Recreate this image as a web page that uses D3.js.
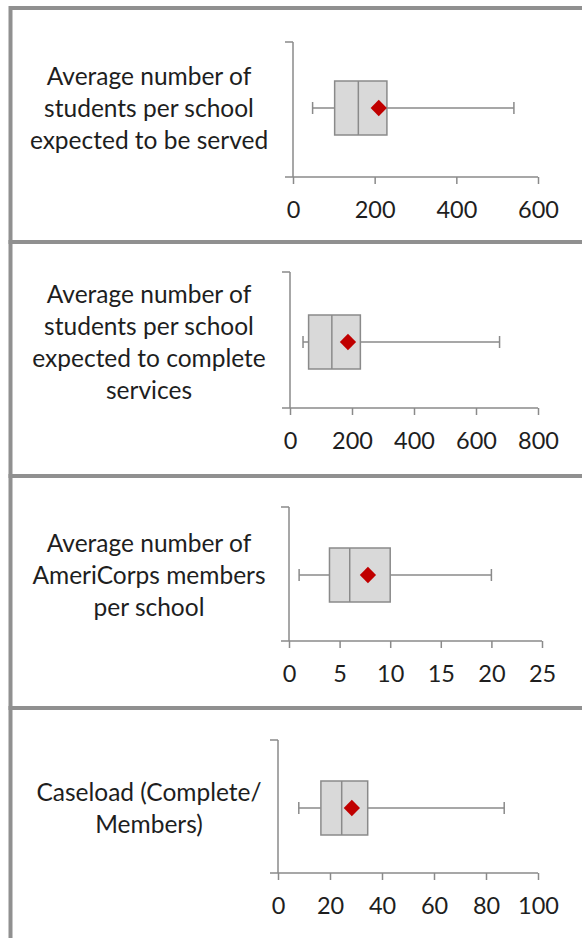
<!DOCTYPE html>
<html>
<head>
<meta charset="utf-8">
<script src="https://cdn.jsdelivr.net/npm/d3@7"></script>
<style>
  html, body { margin: 0; padding: 0; background: #fff; }
  svg { display: block; }
  text { font-family: Lato, "Open Sans", sans-serif; fill: #1e1e1e; }
</style>
</head>
<body>
<svg id="chart" width="582" height="938"></svg>
<script>
// Box-plot summaries, one entry per measure
const labels = [
  ["Average number of", "students per school", "expected to be served"],
  ["Average number of", "students per school", "expected to complete", "services"],
  ["Average number of", "AmeriCorps members", "per school"],
  ["Caseload (Complete/", "Members)"]
];
const minVals    = [48, 42, 1, 8];
const q1Vals     = [102, 60, 4, 16.5];
const medianVals = [160, 135, 6, 24.5];
const q3Vals     = [230, 227, 10, 34.5];
const maxVals    = [541, 676, 20, 87];
const meanVals   = [210, 187, 7.8, 28.4];
const axisMax    = [600, 800, 25, 100];
const tickStep   = [200, 200, 5, 20];

// Panel layout
const panels = [
  { top: 8,   bottom: 242, x0: 293, x1: 538, axisY: 177, yTop: 42,  cy: 108 },
  { top: 242, bottom: 476, x0: 290, x1: 538, axisY: 408, yTop: 272, cy: 342 },
  { top: 476, bottom: 708, x0: 289, x1: 542, axisY: 641, yTop: 507, cy: 575 },
  { top: 708, bottom: 945, x0: 278, x1: 538, axisY: 873, yTop: 740, cy: 808 }
];

const svg = d3.select("#chart");
const gray = "#8a8a8a";
const boxH = 54, capH = 12, diamond = 11.5;

// Panel frames
panels.forEach(p => {
  svg.append("rect")
    .attr("x", 10.5).attr("y", p.top)
    .attr("width", 600).attr("height", p.bottom - p.top)
    .attr("fill", "none").attr("stroke", "#909090").attr("stroke-width", 4);
});

panels.forEach((p, i) => {
  const g = svg.append("g");
  const x = d3.scaleLinear().domain([0, axisMax[i]]).range([p.x0, p.x1]);

  // Measure label, centred on the left side
  const lines = labels[i];
  const lh = 32;
  const startY = p.cy - (lines.length - 1) * lh / 2;
  g.append("text")
    .attr("text-anchor", "middle")
    .attr("font-size", 24.5)
    .selectAll("tspan").data(lines).join("tspan")
    .attr("x", 149)
    .attr("y", (d, k) => startY + k * lh)
    .attr("dy", "0.35em")
    .text(d => d);

  // Vertical axis with a short tick at the top
  g.append("line")
    .attr("x1", p.x0).attr("x2", p.x0)
    .attr("y1", p.yTop).attr("y2", p.axisY)
    .attr("stroke", gray).attr("stroke-width", 1.5);
  g.append("line")
    .attr("x1", p.x0 - 8).attr("x2", p.x0)
    .attr("y1", p.yTop).attr("y2", p.yTop)
    .attr("stroke", gray).attr("stroke-width", 1.5);

  // Horizontal value axis
  const ticks = d3.range(0, axisMax[i] + tickStep[i] / 2, tickStep[i]);
  const ax = g.append("g")
    .attr("transform", `translate(0,${p.axisY})`)
    .call(d3.axisBottom(x).tickValues(ticks).tickSize(7).tickPadding(17)
      .tickFormat(d3.format("d")));
  ax.select(".domain").remove();
  ax.selectAll(".tick line").attr("stroke", gray).attr("stroke-width", 1.5);
  ax.selectAll(".tick text")
    .attr("font-family", "Lato, 'Open Sans', sans-serif")
    .attr("font-size", 23.5).attr("fill", "#1e1e1e");
  g.append("line")
    .attr("x1", p.x0 - 8).attr("x2", p.x1)
    .attr("y1", p.axisY).attr("y2", p.axisY)
    .attr("stroke", gray).attr("stroke-width", 1.5);

  // Whiskers
  g.append("line")
    .attr("x1", x(minVals[i])).attr("x2", x(q1Vals[i]))
    .attr("y1", p.cy).attr("y2", p.cy)
    .attr("stroke", gray).attr("stroke-width", 1.5);
  g.append("line")
    .attr("x1", x(q3Vals[i])).attr("x2", x(maxVals[i]))
    .attr("y1", p.cy).attr("y2", p.cy)
    .attr("stroke", gray).attr("stroke-width", 1.5);
  [minVals[i], maxVals[i]].forEach(v => {
    g.append("line")
      .attr("x1", x(v)).attr("x2", x(v))
      .attr("y1", p.cy - capH / 2).attr("y2", p.cy + capH / 2)
      .attr("stroke", gray).attr("stroke-width", 1.5);
  });

  // Interquartile box and median
  g.append("rect")
    .attr("x", x(q1Vals[i])).attr("y", p.cy - boxH / 2)
    .attr("width", x(q3Vals[i]) - x(q1Vals[i])).attr("height", boxH)
    .attr("fill", "#d9d9d9").attr("stroke", gray).attr("stroke-width", 1.5);
  g.append("line")
    .attr("x1", x(medianVals[i])).attr("x2", x(medianVals[i]))
    .attr("y1", p.cy - boxH / 2).attr("y2", p.cy + boxH / 2)
    .attr("stroke", gray).attr("stroke-width", 1.5);

  // Mean marker
  g.append("rect")
    .attr("x", -diamond / 2).attr("y", -diamond / 2)
    .attr("width", diamond).attr("height", diamond)
    .attr("fill", "#c00000")
    .attr("transform", `translate(${x(meanVals[i])},${p.cy}) rotate(45)`);
});
</script>
</body>
</html>
